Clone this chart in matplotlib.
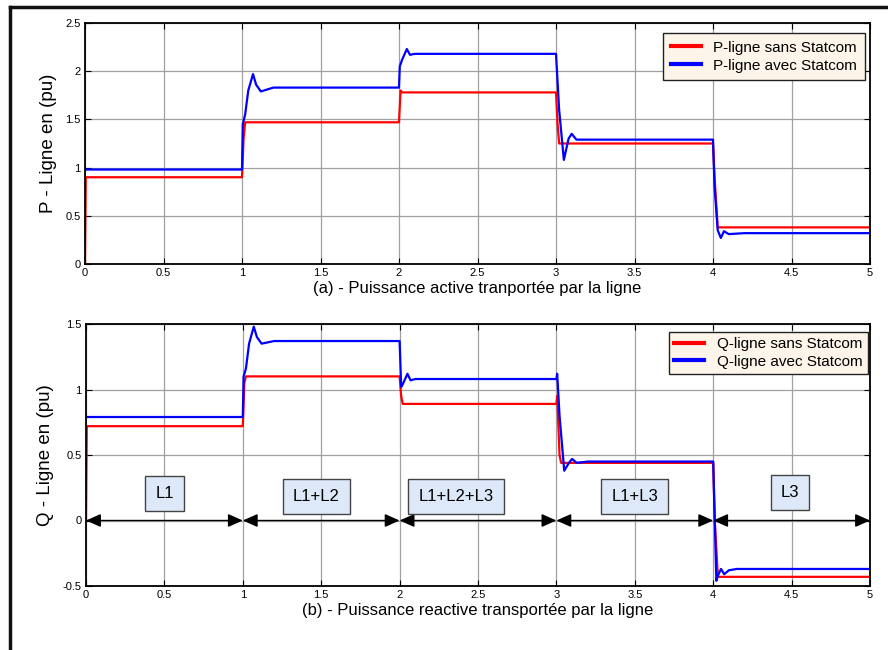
import numpy as np
import matplotlib.pyplot as plt
from matplotlib.lines import Line2D

# P - ligne (pu)
t_p_sans = [0, 0.005, 0.01, 1.0, 1.01, 1.02, 2.0, 2.01, 2.02, 3.0, 3.01, 3.02, 4.0, 4.01, 4.03, 5.0]
p_sans = [0, 0.9, 0.9, 0.9, 1.3, 1.47, 1.47, 1.8, 1.78, 1.78, 1.45, 1.25, 1.25, 0.9, 0.38, 0.38]

t_p_avec = [0, 1.0, 1.005, 1.02, 1.04, 1.07, 1.09, 1.12, 1.16, 1.2, 2.0, 2.005, 2.02, 2.05, 2.07, 2.1, 3.0,
            3.02, 3.05, 3.08, 3.1, 3.13, 3.2, 4.0, 4.01, 4.03, 4.05, 4.07, 4.1, 4.2, 5.0]
p_avec = [0.98, 0.98, 1.45, 1.55, 1.8, 1.97, 1.86, 1.79, 1.81, 1.83, 1.83, 2.05, 2.12, 2.23, 2.17, 2.18, 2.18,
          1.6, 1.08, 1.3, 1.35, 1.29, 1.29, 1.29, 0.8, 0.35, 0.27, 0.34, 0.31, 0.32, 0.32]

# Q - ligne (pu)
t_q_sans = [0, 0.005, 0.01, 1.0, 1.01, 1.02, 2.0, 2.01, 2.02, 3.0, 3.005, 3.02, 3.03, 4.0, 4.01, 4.03, 5.0]
q_sans = [0, 0.72, 0.72, 0.72, 1.05, 1.1, 1.1, 0.95, 0.89, 0.89, 0.95, 0.5, 0.44, 0.44, 0.0, -0.43, -0.43]

t_q_avec = [0, 1.0, 1.005, 1.02, 1.04, 1.07, 1.09, 1.12, 1.16, 1.2, 2.0, 2.01, 2.02, 2.05, 2.07, 2.1, 3.0,
            3.005, 3.02, 3.05, 3.08, 3.1, 3.13, 3.2, 4.0, 4.01, 4.02, 4.03, 4.05, 4.07, 4.1, 4.15, 5.0]
q_avec = [0.79, 0.79, 1.1, 1.16, 1.35, 1.48, 1.4, 1.35, 1.36, 1.37, 1.37, 1.02, 1.04, 1.12, 1.07, 1.08, 1.08,
          1.12, 0.8, 0.38, 0.44, 0.47, 0.44, 0.45, 0.45, 0.0, -0.46, -0.42, -0.37, -0.41, -0.38, -0.37, -0.37]

seg_bounds = [0, 1, 2, 3, 4, 5]
seg_labels = ['L1', 'L1+L2', 'L1+L2+L3', 'L1+L3', 'L3']
seg_label_x = [0.5, 1.47, 2.36, 3.5, 4.49]
seg_label_y = [0.205, 0.187, 0.187, 0.187, 0.21]

plt.rcParams['font.family'] = ['Liberation Sans', 'DejaVu Sans']

fig = plt.figure(figsize=(8.88, 6.5), dpi=100)
ax1 = fig.add_axes([85/888, 1-264/650, 785/888, 241/650])
ax2 = fig.add_axes([86/888, 1-586/650, 784/888, 262/650])

# outer frame
fig.add_artist(Line2D([10/888, 1], [1-7/650, 1-7/650], color='#111', lw=2.5, transform=fig.transFigure))
fig.add_artist(Line2D([10/888, 10/888], [0, 1-7/650], color='#111', lw=2.5, transform=fig.transFigure))

def style(ax):
    ax.set_xlim(0, 5)
    ax.grid(True, color='#a0a0a0', lw=0.9)
    ax.set_axisbelow(True)
    ax.tick_params(direction='in', labelsize=8, length=4, top=True, right=True, pad=3)
    for s in ax.spines.values():
        s.set_linewidth(1.3)

ax1.plot(t_p_sans, p_sans, color='#ff0000', lw=1.6, label='P-ligne sans Statcom')
ax1.plot(t_p_avec, p_avec, color='#0000ff', lw=1.6, label='P-ligne avec Statcom')
ax1.set_ylim(0, 2.5)
ax1.set_xticks(np.arange(0, 5.01, 0.5))
ax1.set_xticklabels(['0', '0.5', '1', '1.5', '2', '2.5', '3', '3.5', '4', '4.5', '5'])
ax1.set_yticks(np.arange(0, 2.51, 0.5))
ax1.set_yticklabels(['0', '0.5', '1', '1.5', '2', '2.5'])
ax1.set_ylabel('P - Ligne en (pu)', fontsize=13.5, labelpad=6)
ax1.set_xlabel('(a) - Puissance active tranportée par la ligne', fontsize=12, labelpad=2)
style(ax1)
leg = ax1.legend(loc='upper right', fontsize=11, fancybox=False, framealpha=1,
                 facecolor='#fdf5ea', edgecolor='#222', handlelength=2.0, borderpad=0.5,
                 labelspacing=0.25, borderaxespad=0, bbox_to_anchor=(0.9936, 0.958))
for l in leg.get_lines():
    l.set_linewidth(3)

ax2.plot(t_q_sans, q_sans, color='#ff0000', lw=1.6, label='Q-ligne sans Statcom')
ax2.plot(t_q_avec, q_avec, color='#0000ff', lw=1.6, label='Q-ligne avec Statcom')
ax2.set_ylim(-0.5, 1.5)
ax2.set_xticks(np.arange(0, 5.01, 0.5))
ax2.set_xticklabels(['0', '0.5', '1', '1.5', '2', '2.5', '3', '3.5', '4', '4.5', '5'])
ax2.set_yticks([-0.5, 0, 0.5, 1, 1.5])
ax2.set_yticklabels(['-0.5', '0', '0.5', '1', '1.5'])
ax2.set_ylabel('Q - Ligne en (pu)', fontsize=13.5, labelpad=6)
ax2.set_xlabel('(b) - Puissance reactive transportée par la ligne', fontsize=12, labelpad=2)
style(ax2)
leg2 = ax2.legend(loc='upper right', fontsize=11, fancybox=False, framealpha=1,
                  facecolor='#fdf5ea', edgecolor='#222', handlelength=2.0, borderpad=0.35,
                  labelspacing=0.2, borderaxespad=0, bbox_to_anchor=(0.997, 0.969))
for l in leg2.get_lines():
    l.set_linewidth(3)

for i in range(len(seg_labels)):
    a, b = seg_bounds[i], seg_bounds[i + 1]
    ax2.annotate('', xy=(b, 0), xytext=(a, 0),
                 arrowprops=dict(arrowstyle='<|-|>,head_length=0.45,head_width=0.2', color='black', lw=1,
                                 mutation_scale=20, shrinkA=0, shrinkB=0))
    ax2.text(seg_label_x[i], seg_label_y[i], seg_labels[i], ha='center', va='center', fontsize=12,
             bbox=dict(boxstyle='square,pad=0.6', fc='#dde9f8', ec='#444', lw=1))

fig.savefig('out.png', dpi=100)
